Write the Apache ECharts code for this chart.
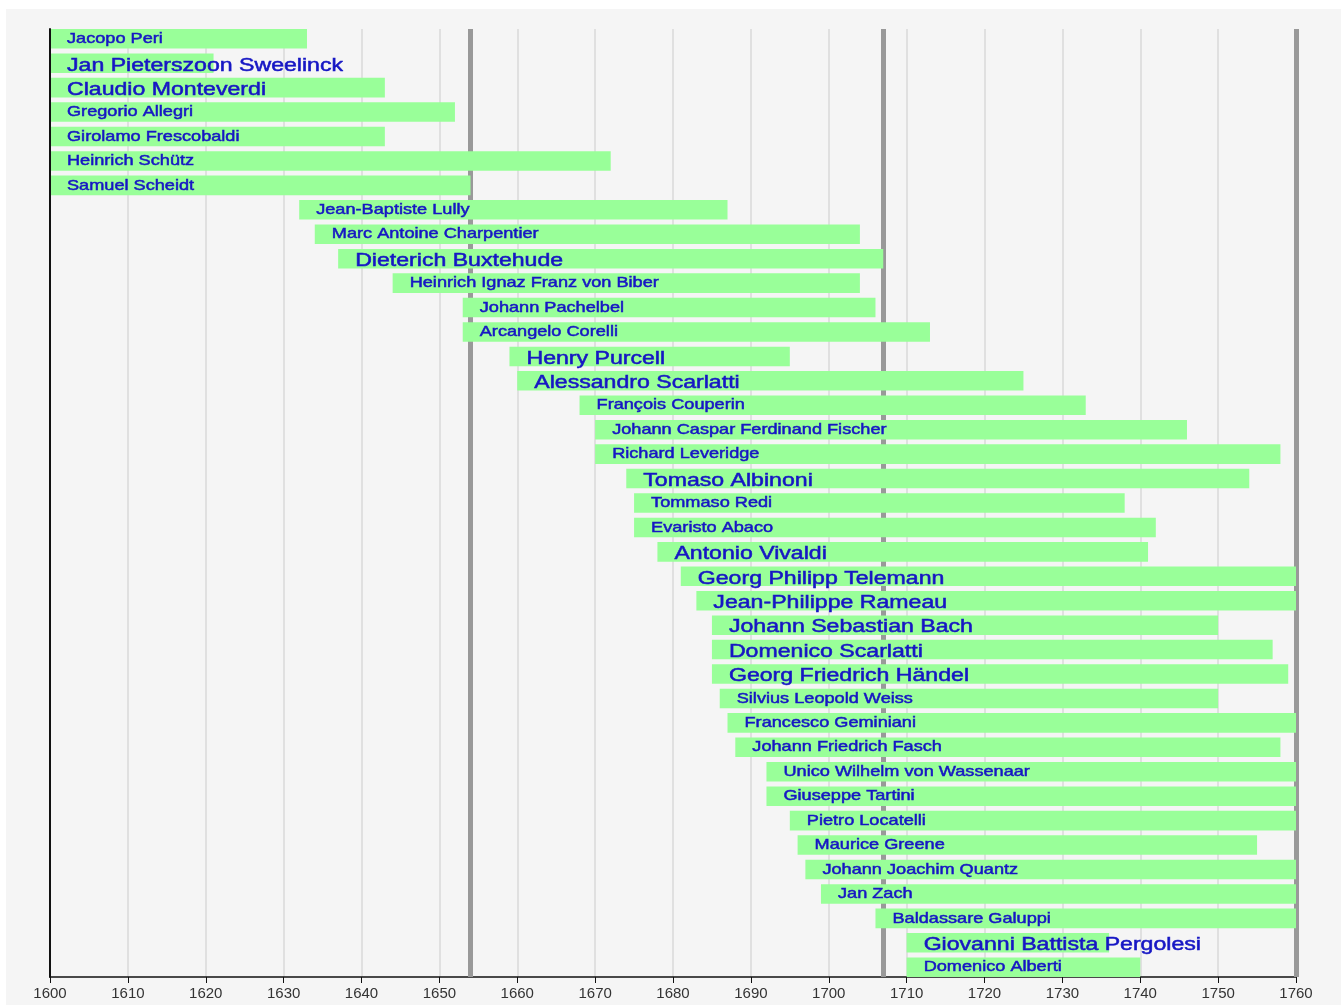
<!DOCTYPE html>
<html>
<head>
<meta charset="utf-8">
<script src="https://cdn.jsdelivr.net/npm/echarts@6/dist/echarts.min.js"></script>
<style>
html,body{margin:0;padding:0;background:#fff;width:1341px;height:1005px;overflow:hidden;}
#panel{position:absolute;left:6px;top:9px;width:1335px;height:996px;background:#f5f5f5;}
#chart{position:absolute;left:0;top:0;width:1341px;height:1005px;}
</style>
</head>
<body>
<div id="panel"></div>
<div id="chart"></div>
<script>
const names = [
  'Jacopo Peri', 'Jan Pieterszoon Sweelinck', 'Claudio Monteverdi', 'Gregorio Allegri',
  'Girolamo Frescobaldi', 'Heinrich Schütz', 'Samuel Scheidt', 'Jean-Baptiste Lully',
  'Marc Antoine Charpentier', 'Dieterich Buxtehude', 'Heinrich Ignaz Franz von Biber',
  'Johann Pachelbel', 'Arcangelo Corelli', 'Henry Purcell', 'Alessandro Scarlatti',
  'François Couperin', 'Johann Caspar Ferdinand Fischer', 'Richard Leveridge',
  'Tomaso Albinoni', 'Tommaso Redi', 'Evaristo Abaco', 'Antonio Vivaldi',
  'Georg Philipp Telemann', 'Jean-Philippe Rameau', 'Johann Sebastian Bach',
  'Domenico Scarlatti', 'Georg Friedrich Händel', 'Silvius Leopold Weiss',
  'Francesco Geminiani', 'Johann Friedrich Fasch', 'Unico Wilhelm von Wassenaar',
  'Giuseppe Tartini', 'Pietro Locatelli', 'Maurice Greene', 'Johann Joachim Quantz',
  'Jan Zach', 'Baldassare Galuppi', 'Giovanni Battista Pergolesi', 'Domenico Alberti'
];
const startYears = [
  1600, 1600, 1600, 1600, 1600, 1600, 1600, 1632, 1634, 1637, 1644, 1653, 1653,
  1659, 1660, 1668, 1670, 1670, 1674, 1675, 1675, 1678, 1681, 1683, 1685, 1685,
  1685, 1686, 1687, 1688, 1692, 1692, 1695, 1696, 1697, 1699, 1706, 1710, 1710
];
const endYears = [
  1633, 1621, 1643, 1652, 1643, 1672, 1654, 1687, 1704, 1707, 1704, 1706, 1713,
  1695, 1725, 1733, 1746, 1758, 1754, 1738, 1742, 1741, 1760, 1760, 1750, 1757,
  1759, 1750, 1760, 1758, 1760, 1760, 1760, 1755, 1760, 1760, 1760, 1736, 1740
];
const featured = [
  'Jan Pieterszoon Sweelinck', 'Claudio Monteverdi', 'Dieterich Buxtehude', 'Henry Purcell',
  'Alessandro Scarlatti', 'Tomaso Albinoni', 'Antonio Vivaldi', 'Georg Philipp Telemann',
  'Jean-Philippe Rameau', 'Johann Sebastian Bach', 'Domenico Scarlatti',
  'Georg Friedrich Händel', 'Giovanni Battista Pergolesi'
];
const eraLines = [1654, 1707, 1760];
const yearMin = 1600, yearMax = 1760, yearStep = 10;

const chart = echarts.init(document.getElementById('chart'), null, {renderer: 'canvas'});
const rows = names.map((n, i) => [i, startYears[i], endYears[i]]);
const TEXT_BLUE = '#1616c4';

chart.setOption({
  animation: false,
  backgroundColor: 'transparent',
  grid: {left: 50, right: 45, top: 29, bottom: 28, containLabel: false},
  xAxis: {
    type: 'value', position: 'bottom', min: yearMin, max: yearMax, interval: yearStep,
    axisLine: {show: true, onZero: false, lineStyle: {color: '#111', width: 1.5}},
    axisTick: {show: true, length: 6, lineStyle: {color: '#111', width: 1}},
    axisLabel: {color: '#333', fontSize: 15, fontFamily: '"Liberation Sans", Arial, sans-serif', margin: 9,
                formatter: v => String(v)},
    splitLine: {show: true, lineStyle: {color: '#e0e0e0', width: 2}}
  },
  yAxis: {
    type: 'value', inverse: true, min: -0.4, max: names.length - 1 + 0.4,
    z: 10,
    axisLine: {show: true, onZero: false, lineStyle: {color: '#111', width: 2}},
    axisTick: {show: false}, axisLabel: {show: false}, splitLine: {show: false}
  },
  series: [
    {
      type: 'line', data: [], z: 1, silent: true,
      markLine: {
        silent: true, z: 1, animation: false,
        symbol: ['none', 'none'],
        label: {show: false},
        lineStyle: {color: '#999', width: 5, type: 'solid'},
        emphasis: {disabled: true},
        data: eraLines.map(v => ({xAxis: v}))
      }
    },
    {
      type: 'custom', z: 3, clip: false, silent: true,
      encode: {x: [1, 2], y: 0},
      data: rows,
      renderItem: function (params, api) {
        const i = api.value(0), s = api.value(1), e = api.value(2);
        const a = api.coord([s, i]), b = api.coord([e, i]);
        const h = api.size([0, 0.8])[1];
        const name = names[params.dataIndex];
        const big = featured.indexOf(name) >= 0;
        return {
          type: 'group',
          children: [
            {type: 'rect', shape: {x: a[0], y: a[1] - h / 2, width: b[0] - a[0], height: h},
             style: {fill: '#99ff99'}},
            {type: 'text', x: a[0] + 17, y: a[1] + (big ? 2.5 : 0), scaleX: big ? 1.32 : 1.21,
             style: {text: name, fill: TEXT_BLUE, stroke: TEXT_BLUE, lineWidth: 0.5,
                     font: (big ? '17.5px' : '15px') + ' "Liberation Sans", Arial, sans-serif',
                     textAlign: 'left', textVerticalAlign: 'middle', align: 'left', verticalAlign: 'middle'}}
          ]
        };
      }
    }
  ]
});
</script>
</body>
</html>
